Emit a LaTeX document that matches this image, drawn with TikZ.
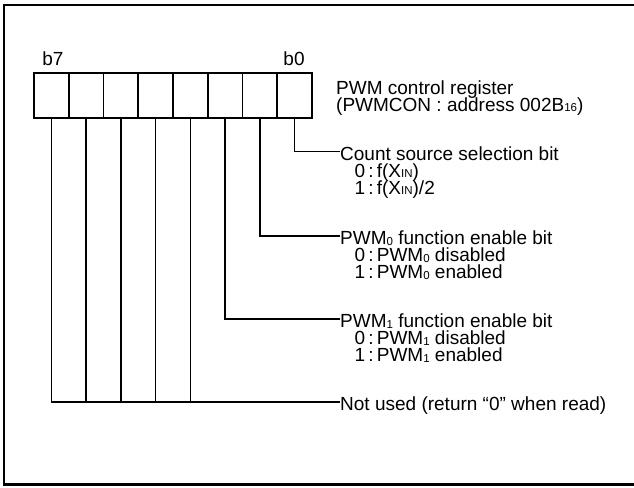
\documentclass[tikz,border=0pt]{standalone}
\usepackage{fontspec}
\setmainfont{Liberation Sans}
\usetikzlibrary{calc,positioning}
\newcommand{\subtxt}[1]{\raisebox{-0.5pt}{\fontsize{11.5}{11.5}\selectfont #1}}

\begin{document}
\begin{tikzpicture}[x=1pt,y=-1pt,
    cell/.style={draw,line width=1.6pt,minimum width=34.75pt,minimum height=45pt,inner sep=0pt},
    lbl/.style={inner sep=0pt,text height=13pt,text depth=3.5pt,font=\fontsize{19}{17}\selectfont},
    title/.style={lbl,anchor=west,text height=17pt,text depth=0pt},
    wire/.style={line width=1.4pt}]
  \useasboundingbox (0,0) rectangle (634,487);
  \draw[line width=2.2pt] (636,5) -- (4,5) -- (4,484.5) -- (636,484.5);
  % register bits
  \node[cell] (b7) at (51.4,95.5) {};
  \node[cell] (b6) at (86.1,95.5) {};
  \node[cell] (b5) at (120.9,95.5) {};
  \node[cell] (b4) at (155.6,95.5) {};
  \node[cell] (b3) at (190.4,95.5) {};
  \node[cell] (b2) at (225.1,95.5) {};
  \node[cell] (b1) at (259.9,95.5) {};
  \node[cell] (b0) at (294.6,95.5) {};
  \node[lbl,anchor=base] (t7) at (53,66) {b7};
  \node[lbl,anchor=base] (t0) at (294,66) {b0};
  \node[lbl,anchor=base west] (reg) at (336,94) {PWM control register};
  \node[lbl,anchor=base west] (addr) at (336,111) {(PWMCON : address 002B\subtxt{16})};
  % bit descriptions
  \node[title] (cnt) at (340,151.5) {Count source selection bit};
  \node[lbl,anchor=base west] (cnt0) at ($(cnt.base west)+(14.5,17)$) {0\,:\,f(X\subtxt{IN})};
  \node[lbl,anchor=base west] (cnt1) at ($(cnt.base west)+(14.5,34)$) {1\,:\,f(X\subtxt{IN})/2};
  \node[title] (pwm0) at (340,236) {PWM\subtxt{0} function enable bit};
  \node[lbl,anchor=base west] (pwm00) at ($(pwm0.base west)+(14.5,17)$) {0\,:\,PWM\subtxt{0} disabled};
  \node[lbl,anchor=base west] (pwm01) at ($(pwm0.base west)+(14.5,34)$) {1\,:\,PWM\subtxt{0} enabled};
  \node[title] (pwm1) at (340,319) {PWM\subtxt{1} function enable bit};
  \node[lbl,anchor=base west] (pwm10) at ($(pwm1.base west)+(14.5,17)$) {0\,:\,PWM\subtxt{1} disabled};
  \node[lbl,anchor=base west] (pwm11) at ($(pwm1.base west)+(14.5,34)$) {1\,:\,PWM\subtxt{1} enabled};
  \node[title] (nu) at (340,402) {Not used (return “0” when read)};
  % wires
  \draw[wire] (b0.south) |- (cnt.west);
  \draw[wire] (b1.south) |- (pwm0.west);
  \draw[wire] (b2.south) |- (pwm1.west);
  \draw[wire] (b7.south) |- (nu.west);
  \draw[wire] (b6.south) -- (b6.south |- nu.west);
  \draw[wire] (b5.south) -- (b5.south |- nu.west);
  \draw[wire] (b4.south) -- (b4.south |- nu.west);
  \draw[wire] (b3.south) -- (b3.south |- nu.west);
\end{tikzpicture}
\end{document}
